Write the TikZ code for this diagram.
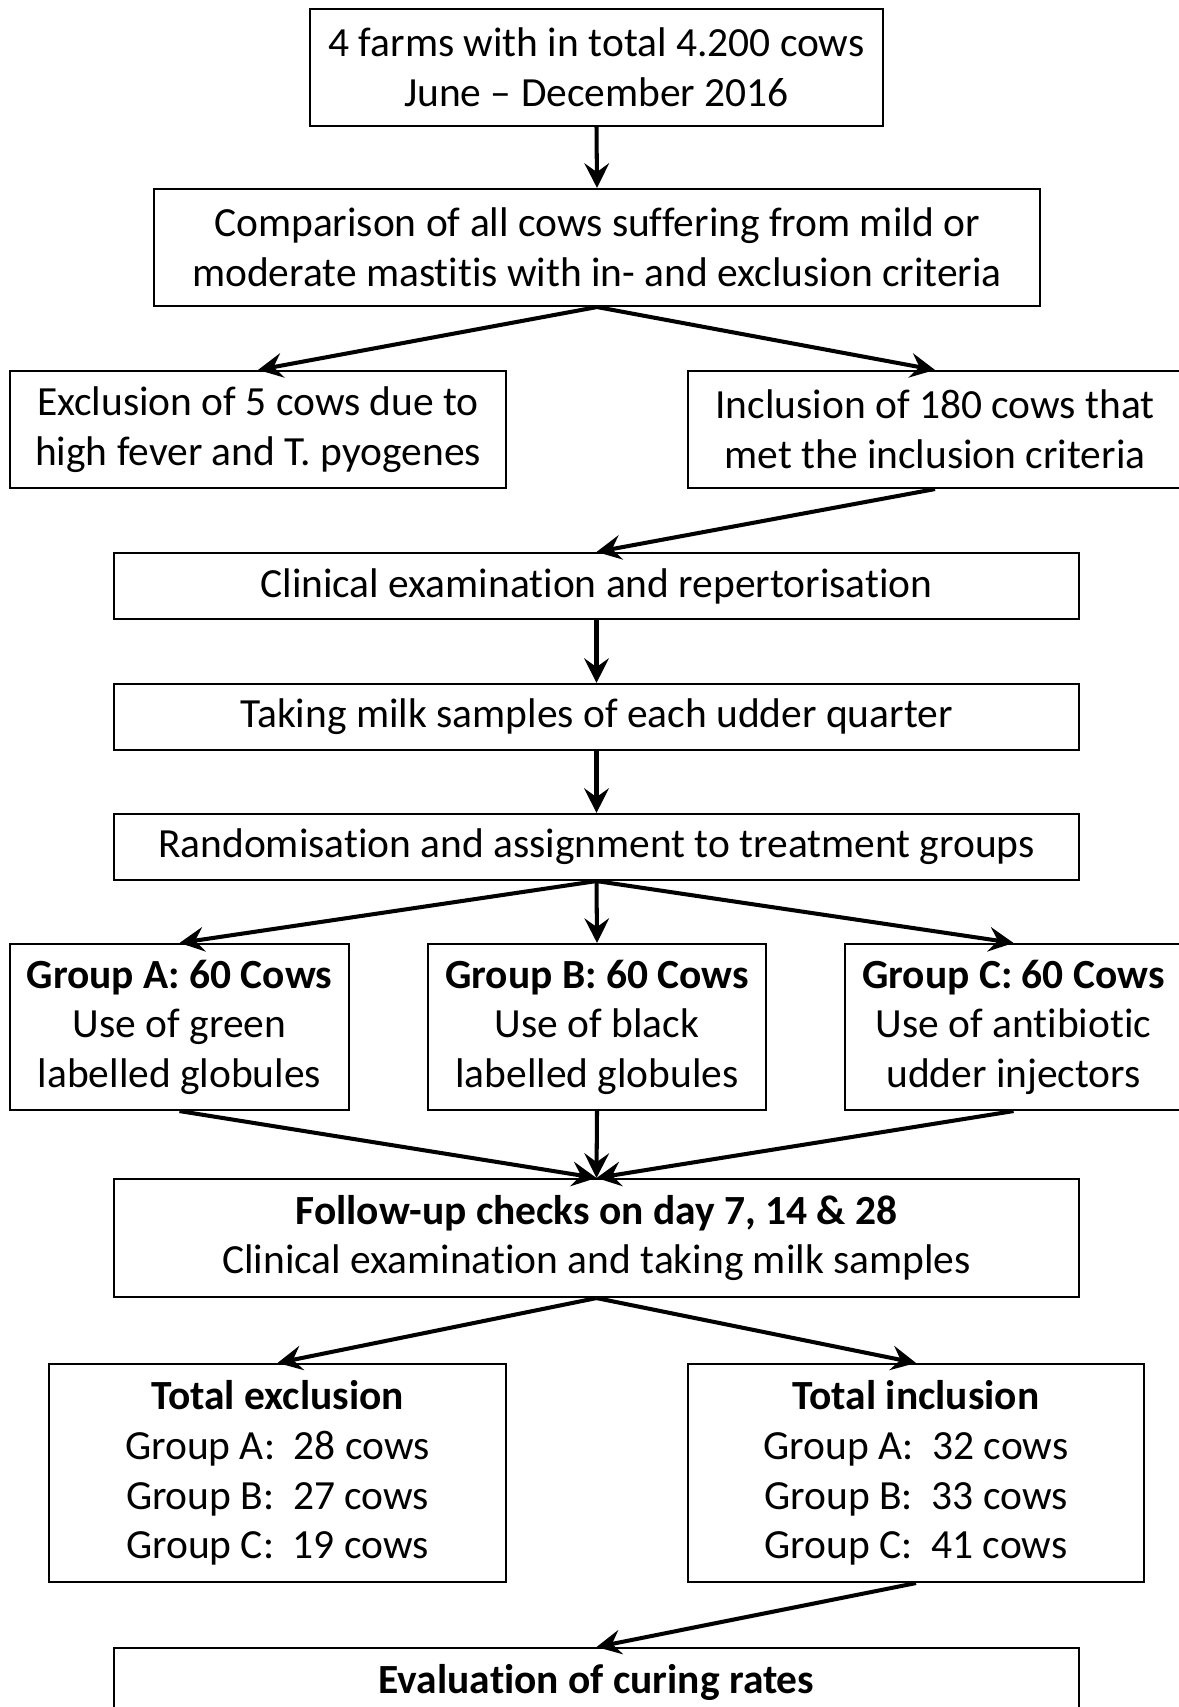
\documentclass[tikz,border=0pt]{standalone}
\usepackage{fontspec}
\setmainfont[Ligatures=NoCommon]{Carlito}
\usepackage{tikz}
\usepackage{xcolor}
\usetikzlibrary{arrows.meta,positioning}
\definecolor{flowblack}{HTML}{000000}

\begin{document}
\begin{tikzpicture}[
  box/.style={draw=flowblack,line width=0.6pt,fill=white,align=center,inner sep=2pt,
    font=\fontsize{11.8pt}{14.1pt}\selectfont},
  flow/.style={-{Stealth[length=7pt,width=7pt,inset=2.5pt]},line width=1.15pt,flowblack}]
\useasboundingbox (0,0) rectangle (11.78,-17.07);

% Study start
\node[box,minimum width=5.73cm,minimum height=1.17cm] (farms) at (5.965,-0.675)
  {4 farms with in total 4.200 cows\\June -- December 2016};
\node[box,minimum width=8.86cm,minimum height=1.17cm] (compare) at (5.97,-2.475)
  {Comparison of all cows suffering from mild or\\moderate mastitis with in- and exclusion criteria};

% Exclusion / inclusion
\node[box,minimum width=4.96cm,minimum height=1.17cm] (excl) at (2.58,-4.295)
  {Exclusion of 5 cows due to\\high fever and T. pyogenes};
\node[box,minimum width=4.94cm,minimum height=1.17cm] (incl) at (9.35,-4.295)
  {Inclusion of 180 cows that\\met the inclusion criteria};

% Procedure
\node[box,minimum width=9.65cm,minimum height=0.66cm] (clinic) at (5.965,-5.86)
  {Clinical examination and repertorisation};
\node[box,minimum width=9.65cm,minimum height=0.66cm] (milk) at (5.965,-7.17)
  {Taking milk samples of each udder quarter};
\node[box,minimum width=9.65cm,minimum height=0.66cm] (random) at (5.965,-8.47)
  {Randomisation and assignment to treatment groups};

% Treatment groups
\node[box,minimum width=3.39cm,minimum height=1.66cm] (grpA) at (1.795,-10.27)
  {\textbf{Group A: 60 Cows}\\Use of green\\labelled globules};
\node[box,minimum width=3.38cm,minimum height=1.66cm] (grpB) at (5.97,-10.27)
  {\textbf{Group B: 60 Cows}\\Use of black\\labelled globules};
\node[box,minimum width=3.37cm,minimum height=1.66cm] (grpC) at (10.135,-10.27)
  {\textbf{Group C: 60 Cows}\\Use of antibiotic\\udder injectors};

% Follow-up and outcome
\node[box,minimum width=9.65cm,minimum height=1.18cm] (follow) at (5.965,-12.38)
  {\textbf{Follow-up checks on day 7, 14 \& 28}\\Clinical examination and taking milk samples};
\node[box,minimum width=4.57cm,minimum height=2.18cm] (totex) at (2.775,-14.73)
  {\textbf{Total exclusion}\\Group A:\ \ 28 cows\\Group B:\ \ 27 cows\\Group C:\ \ 19 cows};
\node[box,minimum width=4.56cm,minimum height=2.18cm] (totin) at (9.16,-14.73)
  {\textbf{Total inclusion}\\Group A:\ \ 32 cows\\Group B:\ \ 33 cows\\Group C:\ \ 41 cows};
\node[box,minimum width=9.65cm,minimum height=1.18cm,anchor=north,text depth=0.56cm] (eval) at (5.965,-16.47)
  {\textbf{Evaluation of curing rates}};

% Connectors
\draw[flow] (farms.south) -- (compare.north);
\draw[flow] (compare.south) -- (excl.north);
\draw[flow] (compare.south) -- (incl.north);
\draw[flow] (incl.south) -- (clinic.north);
\draw[flow] (clinic.south) -- (milk.north);
\draw[flow] (milk.south) -- (random.north);
\foreach \g in {grpA,grpB,grpC} {
  \draw[flow] (random.south) -- (\g.north);
  \draw[flow] (\g.south) -- (follow.north);
}
\draw[flow] (follow.south) -- (totex.north);
\draw[flow] (follow.south) -- (totin.north);
\draw[flow] (totin.south) -- (eval.north);
\end{tikzpicture}
\end{document}
